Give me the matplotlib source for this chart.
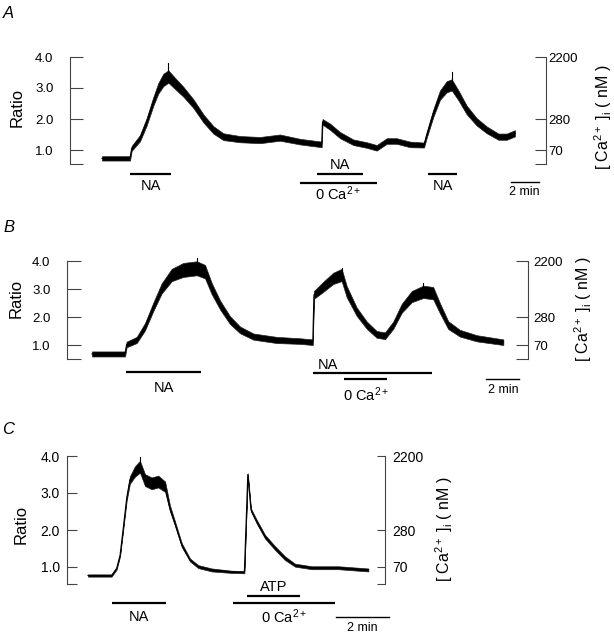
#%% SET_UP

import matplotlib
matplotlib.use("Agg")
import matplotlib.pyplot as plt

plt.rcParams['font.family'] = ['Liberation Sans', 'DejaVu Sans']
plt.rcParams['mathtext.fontset'] = 'custom'
plt.rcParams['mathtext.rm'] = 'Liberation Sans'
plt.rcParams['mathtext.it'] = 'Liberation Sans:italic'

#%% DATA (time [min], fura-2 ratio, trace thickness)

# panel A
tA = [0.0, 2.0, 2.12, 2.71, 3.19, 3.66, 4.02, 4.38, 4.74, 5.21, 5.81, 6.52, 7.24, 7.95,
      8.66, 9.86, 11.29, 12.71, 14.14, 15.69, 15.75, 16.29, 17.0, 17.95, 18.91, 19.62,
      20.34, 21.05, 22.0, 23.0, 23.19, 23.66, 24.14, 24.62, 24.98, 25.45, 26.05, 26.76,
      27.48, 28.31, 28.91, 29.5]
rA = [0.73, 0.73, 1.05, 1.38, 1.91, 2.56, 2.99, 3.26, 3.37, 3.15, 2.88, 2.5, 2.02, 1.65,
      1.43, 1.35, 1.32, 1.4, 1.27, 1.18, 1.91, 1.75, 1.48, 1.25, 1.16, 1.07,
      1.29, 1.29, 1.18, 1.16, 1.48, 2.18, 2.77, 3.04, 3.1, 2.77, 2.29, 1.91,
      1.65, 1.43, 1.43, 1.54]
nA = [0.07, 0.07, 0.08, 0.1, 0.12, 0.14, 0.17, 0.2, 0.2, 0.18, 0.16, 0.14, 0.13, 0.12,
      0.11, 0.1, 0.1, 0.1, 0.09, 0.09, 0.09, 0.1, 0.1, 0.09, 0.09, 0.09,
      0.09, 0.09, 0.09, 0.08, 0.09, 0.12, 0.15, 0.18, 0.18, 0.16, 0.14, 0.12,
      0.11, 0.1, 0.1, 0.1]
spikesA = [(4.74, 3.3, 3.8), (24.98, 3.0, 3.53)]

# panel B
tB = [0.0, 2.0, 2.1, 2.71, 3.21, 3.72, 4.22, 4.83, 5.53, 6.35, 6.85, 7.25, 7.76, 8.36,
      8.97, 9.78, 11.19, 12.61, 13.38, 13.45, 14.02, 14.62, 15.13, 15.44, 16.04, 16.65,
      17.25, 17.76, 18.26, 18.77, 19.38, 20.08, 20.68, 21.09, 21.59, 22.3, 23.32, 24.93]
rB = [0.68, 0.68, 1.02, 1.18, 1.65, 2.37, 3.02, 3.5, 3.68, 3.74, 3.62, 3.02, 2.43, 1.89,
      1.54, 1.3, 1.18, 1.14, 1.1, 2.79, 3.08, 3.38, 3.5, 2.9, 2.19, 1.71,
      1.38, 1.33, 1.71, 2.31, 2.73, 2.9, 2.85, 2.31, 1.71, 1.42, 1.24, 1.1]
nB = [0.09, 0.09, 0.1, 0.11, 0.13, 0.15, 0.18, 0.22, 0.25, 0.25, 0.24, 0.2, 0.16, 0.14,
      0.12, 0.11, 0.11, 0.1, 0.1, 0.14, 0.18, 0.2, 0.22, 0.2, 0.15, 0.13,
      0.12, 0.12, 0.13, 0.16, 0.2, 0.22, 0.22, 0.18, 0.14, 0.12, 0.11, 0.1]
spikesB = [(6.35, 3.7, 4.1), (15.13, 3.4, 3.75), (20.08, 2.8, 3.2)]

# panel C
tC = [0.0, 0.89, 1.08, 1.21, 1.33, 1.46, 1.58, 1.77, 1.96, 2.15, 2.4, 2.65, 2.91, 3.09,
      3.28, 3.54, 3.85, 4.16, 4.67, 5.42, 5.9, 6.03, 6.15, 6.37, 6.68, 7.06, 7.43, 7.81,
      8.44, 9.45, 10.58]
rC = [0.77, 0.77, 0.96, 1.32, 2.05, 2.86, 3.35, 3.58, 3.71, 3.35, 3.26, 3.31, 3.17, 2.59,
      2.18, 1.59, 1.19, 1.01, 0.92, 0.87, 0.86, 3.5, 2.54, 2.22, 1.82, 1.51, 1.24, 1.05,
      0.98, 0.98, 0.92]
nC = [0.03, 0.03, 0.03, 0.03, 0.04, 0.06, 0.1, 0.14, 0.16, 0.16, 0.16, 0.16, 0.14, 0.08,
      0.06, 0.05, 0.04, 0.04, 0.04, 0.03, 0.03, 0.03, 0.04, 0.05, 0.05, 0.05, 0.05, 0.04,
      0.04, 0.04, 0.04]
spikesC = [(1.96, 3.7, 3.98)]

# stimulus bars [min]
barsA = [("NA", 2.0, 4.93), ("NA", 15.36, 18.64), ("0 Ca$^{2+}$", 14.14, 19.64), ("NA", 23.29, 25.36)]
barsB = [("NA", 2.06, 6.6), ("NA", 13.4, 20.6), ("0 Ca$^{2+}$", 15.3, 17.9)]
barsC = [("NA", 0.91, 2.94), ("ATP", 6.0, 8.0), ("0 Ca$^{2+}$", 5.47, 9.32)]

SCALE_MIN = 2
RATIO_TICKS = [1.0, 2.0, 3.0, 4.0]
RATIO_LABELS = ["1.0", "2.0", "3.0", "4.0"]
CA_TICKS = [1.0, 2.0, 4.0]
CA_LABELS = ["70", "280", "2200"]

#%% LAYOUT (pixels of a 614x638 figure)

W, H = 614, 638
LAY = {
    "A": dict(ppm=14.0, x0=102, y1=150, spu=31, rows=(0, 205), left=70, right=546,
              lo=0.55, lt=9.4, rt=8.0, lpad=12, rpad=2, fs=9.5,
              bar_y=[174, 174, 183, 174], lab_y=[186, 165, 194, 186],
              scale=(29.2, 182, 192), ratio=(17, 107), ca=(603, 117), letter=(3, 13)),
    "B": dict(ppm=16.5, x0=92, y1=345, spu=28, rows=(205, 420), left=67, right=528,
              lo=0.5, lt=10.0, rt=8.6, lpad=12, rpad=3.5, fs=9.5,
              bar_y=[372, 373, 379], lab_y=[388, 365, 395],
              scale=(23.9, 379, 390), ratio=(16, 298), ca=(583, 309), letter=(3, 228)),
    "C": dict(ppm=26.5, x0=88, y1=567, spu=37, rows=(420, 638), left=67, right=385,
              lo=0.54, lt=7.0, rt=6.0, lpad=5, rpad=5, fs=10,
              bar_y=[603, 596, 603], lab_y=[617, 587, 617],
              scale=(9.36, 617, 628), ratio=(21, 524), ca=(444, 529), letter=(2, 430)),
}


def tx(L, xpx):
    return (xpx - L["x0"]) / L["ppm"]


def ry(L, ypx):
    return 1 + (L["y1"] - ypx) / L["spu"]


#%% PLOT

fig = plt.figure(figsize=(W / 100, H / 100), dpi=100)

panels = [("A", tA, rA, nA, spikesA, barsA), ("B", tB, rB, nB, spikesB, barsB),
          ("C", tC, rC, nC, spikesC, barsC)]

for name, t, r, n, spikes, bars in panels:
    L = LAY[name]
    top, bot = L["rows"]
    ax = fig.add_axes([0, 1 - bot / H, 1, (bot - top) / H])
    ax.patch.set_visible(False)
    ax.set_xlim(tx(L, 0), tx(L, W))
    ax.set_ylim(ry(L, bot), ry(L, top))

    # trace (noise band + centre line + single spikes)
    lower = [a - b for a, b in zip(r, n)]
    upper = [a + b for a, b in zip(r, n)]
    ax.fill_between(t, lower, upper, color="k", lw=0.5, edgecolor="#222222")
    ax.plot(t, r, color="k", lw=0.8)
    for ts, y0, y1 in spikes:
        ax.plot([ts, ts], [y0, y1], color="k", lw=0.8)

    # left ratio axis
    for s in ["top", "right", "bottom"]:
        ax.spines[s].set_visible(False)
    ax.spines["left"].set_position(("data", tx(L, L["left"])))
    ax.spines["left"].set_bounds(L["lo"], 4.0)
    ax.spines["left"].set_linewidth(0.8)
    ax.spines["left"].set_color("#444444")
    ax.set_xticks([])
    ax.set_yticks([L["lo"]] + RATIO_TICKS)
    ax.set_yticklabels([""] + RATIO_LABELS)
    ax.tick_params(axis="y", direction="in", length=L["lt"], width=0.8, color="#444444",
                   pad=L["lpad"], labelsize=L["fs"])

    # right calcium axis
    ax2 = ax.twinx()
    ax2.set_ylim(ax.get_ylim())
    for s in ["top", "left", "bottom"]:
        ax2.spines[s].set_visible(False)
    ax2.spines["right"].set_position(("data", tx(L, L["right"])))
    ax2.spines["right"].set_bounds(L["lo"], 4.0)
    ax2.spines["right"].set_linewidth(0.8)
    ax2.spines["right"].set_color("#444444")
    ax2.set_yticks([L["lo"]] + CA_TICKS)
    ax2.set_yticklabels([""] + CA_LABELS)
    ax2.tick_params(axis="y", direction="in", length=L["rt"], width=0.8, color="#444444",
                    pad=L["rpad"], labelsize=L["fs"])

    # stimulus bars
    for (lab, t0, t1), yb, yl in zip(bars, L["bar_y"], L["lab_y"]):
        ax.plot([t0, t1], [ry(L, yb)] * 2, color="k", lw=1.6, solid_capstyle="butt")
        xl = (t0 + t1) / 2
        if name == "B" and lab == "NA" and t0 > 10:
            xl = t0 + 0.9
        ax.text(xl, ry(L, yl), lab, ha="center", va="center", fontsize=10.5)

    # time scale bar
    s0, ys, yl = L["scale"]
    ax.plot([s0, s0 + SCALE_MIN], [ry(L, ys)] * 2, color="k", lw=1.0)
    ax.text(s0 + SCALE_MIN / 2, ry(L, yl), "%d min" % SCALE_MIN, ha="center", va="center",
            fontsize=9)

    # axis titles and panel letter
    ax.text(tx(L, L["ratio"][0]), ry(L, L["ratio"][1]), "Ratio", rotation=90,
            ha="center", va="center", fontsize=12)
    ax.text(tx(L, L["ca"][0]), ry(L, L["ca"][1]), r"[ Ca$^{2+}$ ]$_{\mathrm{i}}$ ( nM )",
            rotation=90, ha="center", va="center", fontsize=11.5)
    fig.text(L["letter"][0] / W, 1 - L["letter"][1] / H, name, style="italic",
             ha="left", va="center", fontsize=12)

fig.savefig("out.png", dpi=100)
